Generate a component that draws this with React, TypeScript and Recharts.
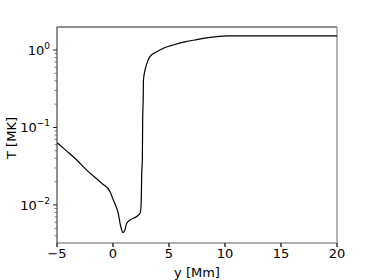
import { LineChart, Line, XAxis, YAxis, ReferenceLine } from 'recharts'

// position along the loop [Mm] and temperature [MK]
const yMm = [
  -5, -4.2, -3.4, -2.2, -1.0, -0.27, 0.03, 0.33, 0.47, 0.63, 0.75, 0.87, 0.97, 1.07, 1.22,
  1.52, 2.12, 2.41, 2.5, 2.54, 2.56, 2.62, 2.65, 2.7, 2.72, 2.86, 3.13, 3.3, 3.9, 4.6, 5.38,
  6.4, 7.47, 8.5, 9.5, 10.2, 12, 15, 20,
]
const tempMK = [
  0.0637, 0.0506, 0.0401, 0.0269, 0.019, 0.0149, 0.0116, 0.0091, 0.0078, 0.0058, 0.0049,
  0.0044, 0.0045, 0.0048, 0.0058, 0.0064, 0.0071, 0.0078, 0.0095, 0.0156, 0.0244, 0.038,
  0.125, 0.25, 0.41, 0.55, 0.74, 0.82, 0.95, 1.07, 1.16, 1.27, 1.36, 1.44, 1.5, 1.52, 1.52,
  1.52, 1.52,
]

const xTicks = [-5, 0, 5, 10, 15, 20]
const majorTicks = [0.01, 0.1, 1]
const majorExp = ['\u22122', '\u22121', '0']
const minorTicks = [
  0.004, 0.005, 0.006, 0.007, 0.008, 0.009,
  0.02, 0.03, 0.04, 0.05, 0.06, 0.07, 0.08, 0.09,
  0.2, 0.3, 0.4, 0.5, 0.6, 0.7, 0.8, 0.9,
]

const Y_MIN = 0.00323
const Y_MAX = 1.98
const PLOT_LEFT = 57
const FONT = 'DejaVu Sans, sans-serif'

const data = yMm.map((y, i) => ({ y, T: tempMK[i] }))

const fmtX = (v: number) => (v < 0 ? '\u2212' + Math.abs(v) : String(v))

function LogTick(props: any) {
  const { y, payload } = props
  const idx = majorTicks.indexOf(payload.value)
  if (idx < 0) {
    return <line x1={PLOT_LEFT} x2={PLOT_LEFT - 2.5} y1={y} y2={y} stroke="#555" strokeWidth={0.8} />
  }
  return (
    <g>
      <line x1={PLOT_LEFT} x2={PLOT_LEFT - 4} y1={y} y2={y} stroke="#222" strokeWidth={1} />
      <text
        x={PLOT_LEFT - 7}
        y={y + 5}
        textAnchor="end"
        fontFamily={FONT}
        fontSize={13}
        fill="#000"
      >
        10
        <tspan dy={-6} fontSize={9}>
          {majorExp[idx]}
        </tspan>
      </text>
    </g>
  )
}

function YLabel(props: any) {
  const vb = props.viewBox || {}
  const cx = 11
  const cy = (vb.y ?? 27) + (vb.height ?? 216) / 2 + 3
  return (
    <text
      x={cx}
      y={cy}
      transform={`rotate(-90 ${cx} ${cy})`}
      textAnchor="middle"
      dominantBaseline="central"
      fontFamily={FONT}
      fontSize={13}
      fill="#000"
    >
      T [MK]
    </text>
  )
}

export default function App() {
  return (
    <div style={{ position: 'absolute', left: 0, top: 0, background: '#fff' }}>
      <LineChart
        width={374}
        height={280}
        data={data}
        margin={{ top: 27, right: 37, bottom: 0, left: 7 }}
      >
        <XAxis
          dataKey="y"
          type="number"
          domain={[-5, 20]}
          ticks={xTicks}
          tickFormatter={fmtX}
          allowDataOverflow
          height={37}
          stroke="#999"
          strokeWidth={1.5}
          tickSize={4}
          tickLine={{ stroke: '#333' }}
          tick={{ fill: '#000', fontSize: 13, fontFamily: FONT }}
          label={{
            value: 'y [Mm]',
            position: 'insideBottom',
            offset: 3,
            fill: '#000',
            fontSize: 13,
            fontFamily: FONT,
          }}
        />
        <YAxis
          dataKey="T"
          scale="log"
          type="number"
          domain={[Y_MIN, Y_MAX]}
          ticks={[...minorTicks, ...majorTicks].sort((a, b) => a - b)}
          interval={0}
          allowDataOverflow
          width={50}
          stroke="#222"
          tickLine={false}
          tick={<LogTick />}
          label={<YLabel />}
        />
        <ReferenceLine y={Y_MAX} stroke="#222" strokeWidth={1} />
        <ReferenceLine x={20} stroke="#999" strokeWidth={1.5} />
        <Line
          dataKey="T"
          type="monotone"
          stroke="#000"
          strokeWidth={1.2}
          dot={false}
          isAnimationActive={false}
        />
      </LineChart>
    </div>
  )
}
